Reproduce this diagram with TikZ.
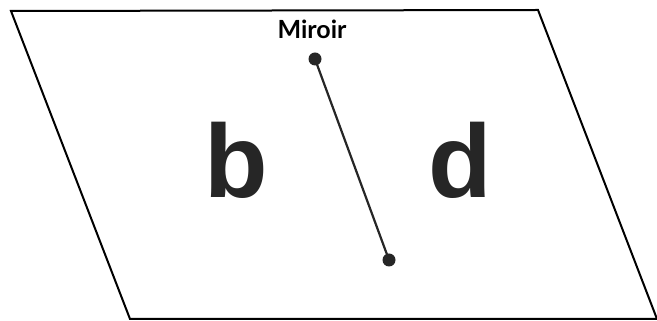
\documentclass[tikz,border=0pt]{standalone}
\usepackage{fontspec}
\usepackage{tikz}
\usetikzlibrary{positioning}
\newfontfamily\letterfont{Liberation Sans}
\newfontfamily\labelfont{Lato}

\begin{document}
\begin{tikzpicture}[
        x=1pt, y=1pt,
        frame/.style={draw, line width=2pt, line join=miter},
        glyph/.style={inner sep=0pt, text=black!85,
            font=\letterfont\bfseries\fontsize{104}{104}\selectfont},
        mirrordot/.style={circle, fill=black!85, inner sep=0pt, minimum size=13pt},
        caption/.style={inner sep=0pt, font=\labelfont\bfseries\fontsize{25}{25}\selectfont}
    ]
        \useasboundingbox (0,0) rectangle (657,321);
        \draw[frame] (11,310) -- (538,311) -- (657,2) -- (130,2) -- cycle;
        \node[caption] (label) at (312,292) {Miroir};
        \node[mirrordot] (top) at (315,262) {};
        \node[mirrordot] (bottom) at (389,61) {};
        \draw[line width=2.2pt, black!85] (top.center) -- (bottom.center);
        \node[glyph] (b) at (236,161) {b};
        \node[glyph] (d) at (460,161) {d};
    \end{tikzpicture}
\end{document}
